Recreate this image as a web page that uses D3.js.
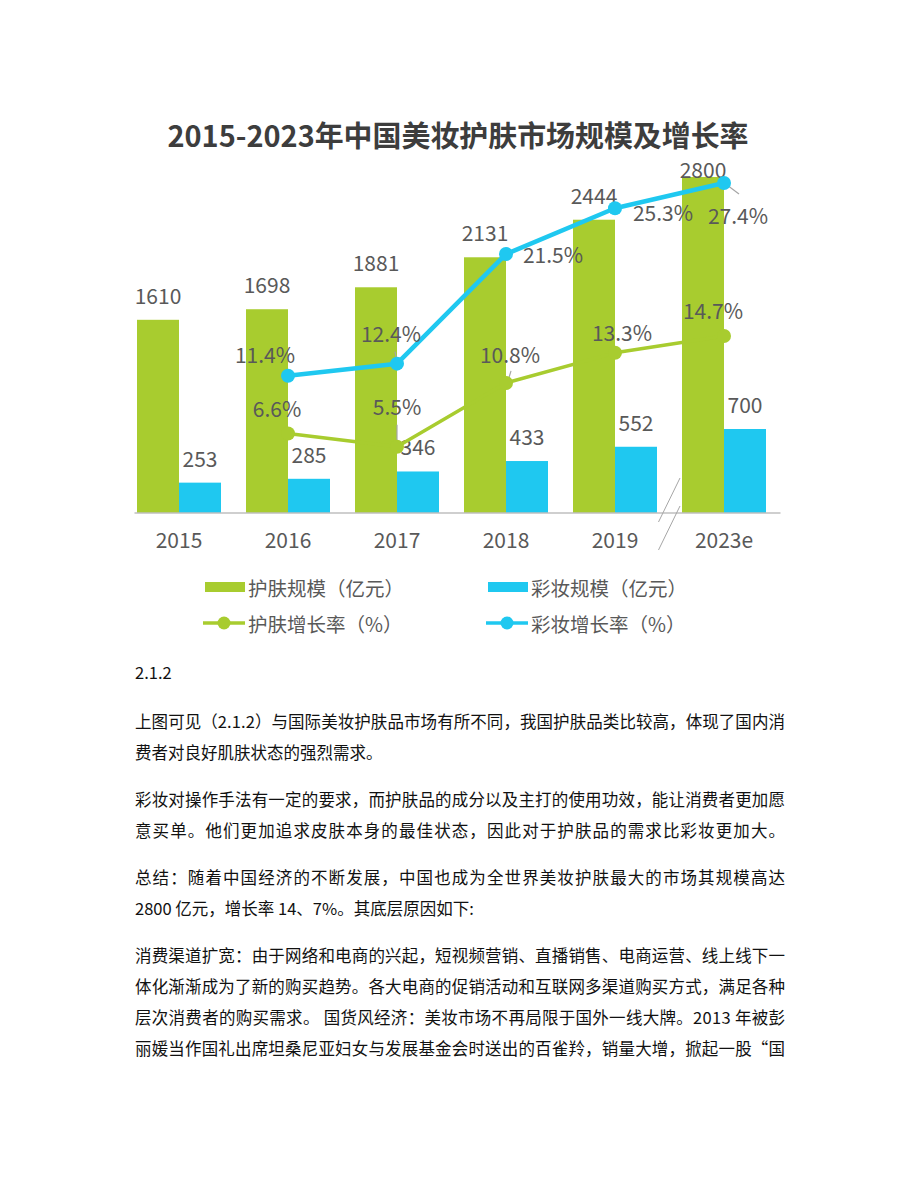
<!DOCTYPE html>
<html>
<head>
<meta charset="utf-8">
<script src="https://cdn.jsdelivr.net/npm/d3@7"></script>
<style>
  body { margin: 0; background: #fff; }
  svg { display: block; font-family: "Noto Sans CJK SC", "Noto Sans", sans-serif; }
</style>
</head>
<body>
<svg id="chart" width="920" height="1191"></svg>
<script>
/* 2015-2023 China cosmetics / skincare market: grouped bars (size, 亿元)
   with two growth-rate lines (%) sharing the same baseline.
*/
var years = ["2015", "2016", "2017", "2018", "2019", "2023e"];
var skinSize = [1610, 1698, 1881, 2131, 2444, 2800];
var makeupSize = [253, 285, 346, 433, 552, 700];
var skinGrowth = [null, 6.6, 5.5, 10.8, 13.3, 14.7];
var makeupGrowth = [null, 11.4, 12.4, 21.5, 25.3, 27.4];
var legendLabels = ["护肤规模（亿元）", "彩妆规模（亿元）", "护肤增长率（%）", "彩妆增长率（%）"];
var title = "2015-2023年中国美妆护肤市场规模及增长率";
var bodyLines = [
	["2.1.2"],
	["上图可见（2.1.2）与国际美妆护肤品市场有所不同，我国护肤品类比较高，体现了国内消",
	 "费者对良好肌肤状态的强烈需求。"],
	["彩妆对操作手法有一定的要求，而护肤品的成分以及主打的使用功效，能让消费者更加愿",
	 "意买单。他们更加追求皮肤本身的最佳状态，因此对于护肤品的需求比彩妆更加大。"],
	["总结：随着中国经济的不断发展，中国也成为全世界美妆护肤最大的市场其规模高达",
	 "2800 亿元，增长率 14、7%。其底层原因如下:"],
	["消费渠道扩宽：由于网络和电商的兴起，短视频营销、直播销售、电商运营、线上线下一",
	 "体化渐渐成为了新的购买趋势。各大电商的促销活动和互联网多渠道购买方式，满足各种",
	 "层次消费者的购买需求。 国货风经济：美妆市场不再局限于国外一线大牌。2013 年被彭",
	 "丽媛当作国礼出席坦桑尼亚妇女与发展基金会时送出的百雀羚，销量大增，掀起一股“国"]
];

var GREEN = "#a8cc2f", BLUE = "#1fc8f0", LABEL = "#595959";
var svg = d3.select("#chart");

// title
svg.append("text")
	.text(title)
	.attr("x", 458).attr("y", 134)
	.attr("text-anchor", "middle")
	.attr("dominant-baseline", "central")
	.attr("font-size", 29).attr("font-weight", "bold")
	.attr("fill", "#3d3d3d")
	.attr("textLength", 581).attr("lengthAdjust", "spacingAndGlyphs");

// scales
var baseY = 513;
var x = d3.scaleBand().domain(years).range([124.5, 778.5]).padding(0);
var bw = x.bandwidth();
var sub = d3.scaleBand().domain(["skin", "makeup"]).range([bw / 2 - 42, bw / 2 + 42]);
var y = d3.scaleLinear().domain([0, 2800]).range([baseY, 177]);
var yPct = d3.scaleLinear().domain([0, 27.4]).range([baseY, 183]);
function cx(i) { return x(years[i]) + bw / 2; }

var rows = years.map(function(yr, i) {
	return { year: yr, skin: skinSize[i], makeup: makeupSize[i], sg: skinGrowth[i], mg: makeupGrowth[i] };
});

// bars
var bars = svg.append("g");
[["skin", GREEN], ["makeup", BLUE]].forEach(function(s) {
	bars.selectAll("rect." + s[0])
		.data(rows)
		.enter().append("rect")
		.attr("class", s[0])
		.attr("x", function(d) { return x(d.year) + sub(s[0]); })
		.attr("width", sub.bandwidth())
		.attr("y", function(d) { return y(d[s[0]]); })
		.attr("height", function(d) { return baseY - y(d[s[0]]); })
		.attr("fill", s[1]);
});

// axis
var xAxis = svg.append("g")
	.attr("transform", "translate(0," + baseY + ")")
	.call(d3.axisBottom(x).tickSize(0).tickPadding(20));
xAxis.select(".domain").attr("stroke", "#bfbfbf").attr("stroke-width", 1.5)
	.attr("d", "M" + (x.range()[0] + 10) + ",0H" + (x.range()[1] + 2));
xAxis.selectAll("text").attr("font-size", 21).attr("fill", LABEL)
	.attr("font-family", "\"Noto Sans CJK SC\", sans-serif");

// axis break between 2019 and 2023e
var bx = x("2023e");
[0, 28].forEach(function(off) {
	svg.append("line")
		.attr("x1", bx + 10.5).attr("y1", baseY - 35 + off)
		.attr("x2", bx - 11).attr("y2", baseY + 9 + off)
		.attr("stroke", "#a6a6a6").attr("stroke-width", 1);
});

// bar value labels
var vLabels = svg.append("g").attr("font-size", 21).attr("fill", LABEL)
	.attr("text-anchor", "middle").attr("dominant-baseline", "central");
["skin", "makeup"].forEach(function(k) {
	vLabels.selectAll("text." + k)
		.data(rows)
		.enter().append("text")
		.attr("class", k)
		.attr("x", function(d) { return x(d.year) + sub(k) + sub.bandwidth() / 2; })
		.attr("y", function(d) { return Math.max(y(d[k]) - 25, 169); })
		.text(function(d) { return d[k]; });
});

// growth lines
var line = d3.line()
	.defined(function(d) { return d.v != null; })
	.x(function(d) { return cx(d.i); })
	.y(function(d) { return yPct(d.v); });
var skinPts = skinGrowth.map(function(v, i) { return { v: v, i: i }; });
var makeupPts = makeupGrowth.map(function(v, i) { return { v: v, i: i }; });

// small leader lines (from point by dx,dy)
var leaders = [
	[makeupPts, 2, 0, -2, -2, -12],
	[skinPts, 2, 0, -3, 0, -22],
	[skinPts, 3, 2, -2, 5, -12],
	[makeupPts, 5, 3, 2, 15, 11]
];
leaders.forEach(function(l) {
	var p = l[0][l[1]];
	svg.append("line")
		.attr("x1", cx(p.i) + l[2]).attr("y1", yPct(p.v) + l[3])
		.attr("x2", cx(p.i) + l[4]).attr("y2", yPct(p.v) + l[5])
		.attr("stroke", "#a6a6a6").attr("stroke-width", 1.2);
});

[[skinPts, GREEN, 3.5], [makeupPts, BLUE, 4.5]].forEach(function(s) {
	var g = svg.append("g");
	g.append("path")
		.datum(s[0])
		.attr("d", line)
		.attr("fill", "none")
		.attr("stroke", s[1])
		.attr("stroke-width", s[2])
		.attr("stroke-linejoin", "round");
	g.selectAll("circle")
		.data(s[0].filter(function(d) { return d.v != null; }))
		.enter().append("circle")
		.attr("cx", function(d) { return cx(d.i); })
		.attr("cy", function(d) { return yPct(d.v); })
		.attr("r", 7)
		.attr("fill", s[1]);
});

// percent labels, offsets from point to label centre
var skinOff = [null, [-11, -26], [0, -41], [4, -29], [7, -21], [-11, -26]];
var makeupOff = [null, [-23, -22], [-6, -31], [47, 0], [48, 4], [14, 32]];
var pLabels = svg.append("g").attr("font-size", 21).attr("fill", LABEL)
	.attr("text-anchor", "middle").attr("dominant-baseline", "central");
[[skinPts, skinOff], [makeupPts, makeupOff]].forEach(function(s) {
	pLabels.selectAll(null)
		.data(s[0].filter(function(d) { return d.v != null; }))
		.enter().append("text")
		.attr("x", function(d) { return cx(d.i) + s[1][d.i][0]; })
		.attr("y", function(d) { return yPct(d.v) + s[1][d.i][1]; })
		.text(function(d) { return d.v.toFixed(1) + "%"; });
});

// legend
var legend = svg.append("g").attr("font-size", 19.5).attr("fill", LABEL);
var legendPos = [[205, 587], [488, 587], [205, 623], [488, 623]];
var legendCol = [GREEN, BLUE, GREEN, BLUE];
legendLabels.forEach(function(lbl, i) {
	var p = legendPos[i];
	if (i < 2) {
		legend.append("rect").attr("x", p[0]).attr("y", p[1] - 5)
			.attr("width", 40).attr("height", 10).attr("fill", legendCol[i]);
	} else {
		legend.append("line").attr("x1", p[0] - 2).attr("x2", p[0] + 40)
			.attr("y1", p[1]).attr("y2", p[1])
			.attr("stroke", legendCol[i]).attr("stroke-width", 3.5);
		legend.append("circle").attr("cx", p[0] + 19).attr("cy", p[1])
			.attr("r", 6.5).attr("fill", legendCol[i]);
	}
	legend.append("text").attr("x", p[0] + 43).attr("y", p[1])
		.attr("dominant-baseline", "central")
		.text(lbl);
});

// body text below the chart
var body = svg.append("g").attr("font-size", 16.5).attr("fill", "#111");
var ty = 672;
bodyLines.forEach(function(para, pi) {
	para.forEach(function(ln, li) {
		var t = body.append("text")
			.attr("x", 135).attr("y", ty)
			.attr("dominant-baseline", "central")
			.text(ln);
		if (t.node().getComputedTextLength() > 600) {
			t.attr("textLength", 650).attr("lengthAdjust", "spacing");
		}
		ty += 31;
	});
	ty += pi === 0 ? 18 : 16;
});
</script>
</body>
</html>
